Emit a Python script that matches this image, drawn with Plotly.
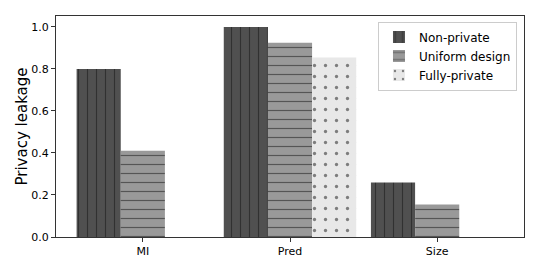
import plotly.graph_objects as go

categories = ["MI", "Pred", "Size"]
series_names = ["Non-private", "Uniform design", "Fully-private"]
non_private = [0.80, 1.00, 0.26]
uniform_design = [0.41, 0.925, 0.155]
fully_private = [0.0, 0.855, 0.0]
y_ticks = [0.0, 0.2, 0.4, 0.6, 0.8, 1.0]

values = [non_private, uniform_design, fully_private]
colors = ["#505050", "#999999", "#e8e8e8"]
shapes = ["|", "-", "."]
sizes = [9, 9, 11]
solid = [0.13, 0.13, 0.07]

fig = go.Figure()
for name, vals, c, sh, sz, so in zip(series_names, values, colors, shapes, sizes, solid):
    fig.add_trace(go.Bar(
        x=categories, y=vals, name=name,
        marker=dict(color=c, line=dict(width=0),
                    pattern=dict(shape=sh, fgcolor="#111111", bgcolor=c, size=sz, solidity=so, fillmode="overlay")),
    ))

fig.update_layout(
    width=540, height=270,
    margin=dict(l=56, r=16, t=16, b=33, autoexpand=False),
    barmode="group", bargap=0.1, bargroupgap=0,
    plot_bgcolor="white", paper_bgcolor="white",
    font=dict(family="DejaVu Sans", size=11, color="black"),
    showlegend=True,
    legend=dict(x=0.985, y=0.975, xanchor="right", yanchor="top",
                bgcolor="rgba(255,255,255,0.8)", bordercolor="#cccccc", borderwidth=1,
                font=dict(size=12), tracegroupgap=0, itemwidth=30),
    xaxis=dict(range=[-0.59, 2.59], showline=True, linecolor="#333333", linewidth=1, mirror=True,
               ticks="outside", ticklen=4, tickcolor="#333333", showgrid=False, automargin=False),
    yaxis=dict(range=[0, 1.052], tickvals=y_ticks, tickformat=".1f", showline=True, linecolor="#333333",
               linewidth=1, mirror=True, ticks="outside", ticklen=4, tickcolor="#333333", showgrid=False,
               zeroline=False, automargin=False,
               title=dict(text="Privacy leakage", font=dict(size=15), standoff=0)),
)

fig.write_html("out.html", config={"displayModeBar": False},
               post_script="document.body.style.margin='0';")
